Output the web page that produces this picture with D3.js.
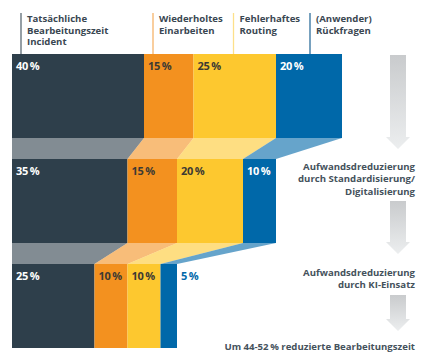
<!DOCTYPE html>
<html><head><meta charset="utf-8">
<script src="https://cdn.jsdelivr.net/npm/d3@7"></script>
<style>body{margin:0;background:#fff}svg{display:block;font-family:"Open Sans",sans-serif}</style>
</head><body><svg id="c" width="428" height="360"></svg>
<script>
const categories = ["Tatsächliche Bearbeitungszeit Incident", "Wiederholtes Einarbeiten", "Fehlerhaftes Routing", "(Anwender) Rückfragen"];
const categoryLines = [["Tatsächliche","Bearbeitungszeit","Incident"],["Wiederholtes","Einarbeiten"],["Fehlerhaftes","Routing"],["(Anwender)","Rückfragen"]];
const stages = ["Ist", "Standardisierung", "KI"];
const valuesIst = [40, 15, 25, 20];
const valuesStd = [35, 15, 20, 10];
const valuesKI = [25, 10, 10, 5];
const stepLabels = [["Aufwandsdreduzierung","durch Standardisierung/","Digitalisierung"],["Aufwandsdreduzierung","durch KI-Einsatz"],["Um 44-52\u2009% reduzierte Bearbeitungszeit"]];

const colors = ["#2e3f4b", "#f3911f", "#fdc82f", "#0068a9"];
const lineColors = ["#5c6b75", "#f6b46a", "#fde08a", "#2f6f9c"];
const labelColors = ["#ffffff", "#3d3a33", "#3d3a33", "#ffffff"];
const headerOffsets = [9, 9, 40, 34];

const rows = [valuesIst, valuesStd, valuesKI];
const svg = d3.select("#c");
const x = d3.scaleLinear().domain([0, 100]).range([12, 342]);
const y = d3.scaleBand().domain(stages).range([54, 348]).paddingInner(0.2);

function segs(vals){ let acc=0; return vals.map((v,i)=>{const s={i,v,x0:acc,x1:acc+v}; acc+=v; return s;}); }
const rowSegs = rows.map(segs);

// connectors
for (let r=0;r<rows.length-1;r++){
  const a=rowSegs[r], b=rowSegs[r+1];
  const yt=y(stages[r])+y.bandwidth(), yb=y(stages[r+1]);
  a.forEach((s,i)=>{
    const t=b[i];
    svg.append("path")
      .attr("d", `M${x(s.x0)},${yt}L${x(s.x1)},${yt}L${x(t.x1)},${yb}L${x(t.x0)},${yb}Z`)
      .attr("fill", colors[i]).attr("fill-opacity", 0.6);
  });
}

// bars
rowSegs.forEach((segsR, r)=>{
  segsR.forEach(s=>{
    svg.append("rect").attr("x", x(s.x0)).attr("y", y(stages[r]))
      .attr("width", x(s.x1)-x(s.x0)).attr("height", y.bandwidth())
      .attr("fill", colors[s.i]);
  });
});

// percent labels
rowSegs.forEach((segsR, r)=>{
  segsR.forEach(s=>{
    const w = x(s.x1)-x(s.x0);
    const outside = w < 25;
    svg.append("text")
      .attr("x", outside ? x(s.x1)+4 : x(s.x0)+4)
      .attr("y", y(stages[r]) + 16)
      .attr("font-size", 11).attr("font-weight", 700)
      .attr("letter-spacing", -0.2)
      .attr("fill", outside ? colors[s.i] : labelColors[s.i])
      .text(s.v + "\u2009%");
  });
});

// header labels
const firstRow = rowSegs[0];
firstRow.forEach((s,i)=>{
  const lx = x(s.x0) + headerOffsets[i];
  svg.append("line").attr("x1", lx).attr("x2", lx).attr("y1", 13).attr("y2", y(stages[0]))
    .attr("stroke", lineColors[i]).attr("stroke-width", 1.3);
  const t = svg.append("text").attr("x", lx+6).attr("y", 22)
    .attr("font-size", 9.6).attr("font-weight", 700).attr("fill", "#3a4752");
  categoryLines[i].forEach((ln,k)=>t.append("tspan").attr("x", lx+6).attr("dy", k?11.5:0).text(ln));
});

// arrows
const grad = svg.append("defs").append("linearGradient").attr("id","ag").attr("x1",0).attr("x2",0).attr("y1",0).attr("y2",1);
grad.append("stop").attr("offset",0).attr("stop-color","#c9cbcd");
grad.append("stop").attr("offset",1).attr("stop-color","#eceeef");
const arrows = [[55,149],[201,254],[295,331]];
const ax = 398;
arrows.forEach(([a,b])=>{
  const h = 12;
  svg.append("path")
    .attr("d", `M${ax-8},${a}L${ax+8},${a}L${ax+8},${b-h}L${ax+12},${b-h}L${ax},${b}L${ax-12},${b-h}L${ax-8},${b-h}Z`)
    .attr("fill","url(#ag)");
});

// step labels
const stepY = [170, 276, 350];
stepLabels.forEach((lines,k)=>{
  const t = svg.append("text").attr("x", 415).attr("y", stepY[k]).attr("text-anchor","end")
    .attr("font-size", 9.6).attr("font-weight", 700).attr("fill", "#45525c");
  lines.forEach((ln,j)=>t.append("tspan").attr("x",415).attr("dy", j?12.3:0).text(ln));
});
</script></body></html>
